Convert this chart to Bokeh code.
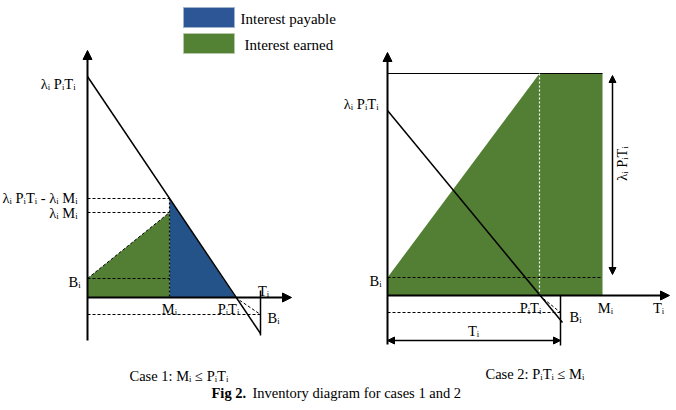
import numpy as np
from bokeh.plotting import figure
from bokeh.models import Range1d, Arrow, NormalHead
from bokeh.core.properties import value
from bokeh.embed import file_html
from bokeh.resources import INLINE

W, H = 676, 410
FONT = "Liberation Serif"
LAB = "14.5px"
BLUE = "#24538a"
BLUE_LEG = "#2c5696"
GREEN = "#527f33"
GREEN_LEG = "#548235"

# ---- Case 1 key points (pixel-space diagram coordinates) ----
c1_axis_x = 87
c1_axis_y = 297
c1_top = 76            # lambda P T
c1_M = 169             # M_i
c1_PT = 235            # P_i T_i
c1_T = 260             # T_i
c1_lpt_lm = 198        # lambda P T - lambda M
c1_lm = 212            # lambda M
c1_B = 278             # B_i (above axis)
c1_Bneg = 314          # B_i (below axis)
c1_line_end = 333

# ---- Case 2 key points ----
c2_axis_x = 387
c2_axis_y = 295
c2_top = 73
c2_lpt = 110
c2_PT = 539
c2_T = 560
c2_M = 602
c2_B = 277
c2_Bneg = 312
c2_line_end = (562, 322)

p = figure(width=W, height=H, x_range=Range1d(0, W), y_range=Range1d(H, 0),
           output_backend="svg", toolbar_location=None, min_border=0)
p.axis.visible = False
p.grid.visible = False
p.outline_line_color = None
p.background_fill_color = "white"

def txt(xs, ys, ts, align="left", size=LAB, **kw):
    p.text(x=xs, y=ys, text=ts, text_font=value(FONT), text_font_size=size,
           text_baseline="middle", text_align=align, text_color="black", **kw)

# ---------------- Legend ----------------
p.quad(left=[183], right=[234], top=[7], bottom=[27], fill_color=BLUE_LEG, line_color="#9fb3cc", line_width=1)
p.quad(left=[183], right=[234], top=[33], bottom=[53], fill_color=GREEN_LEG, line_color="#b5c9a8", line_width=1)
txt([240], [18], ["Interest payable"], size="15px")
txt([244], [44], ["Interest earned"], size="15px")

# ---------------- Case 1 ----------------
p.patch([c1_M, c1_M, c1_PT], [c1_axis_y, c1_lpt_lm, c1_axis_y], fill_color=BLUE, line_color=None)
p.patch([c1_axis_x, c1_axis_x, c1_M, c1_M], [c1_axis_y, c1_B, c1_lm, c1_axis_y], fill_color=GREEN, line_color=None)
p.line([c1_axis_x, c1_M], [c1_B, c1_lm], line_color="black", line_width=1, line_dash="3 2")
for yy in [c1_lpt_lm, c1_lm, c1_B]:
    p.line([c1_axis_x, c1_M], [yy, yy], line_color="black", line_width=1.2, line_dash="3 2")
p.line([c1_axis_x, c1_T], [c1_Bneg, c1_Bneg], line_color="black", line_width=1.2, line_dash="3 2")
p.line([c1_PT, c1_T], [c1_axis_y, c1_Bneg], line_color="black", line_width=1, line_dash="3 2")
p.line([c1_M, c1_M], [c1_lpt_lm, c1_axis_y], line_color="black", line_width=1.2, line_dash="2 2")
p.line([c1_axis_x, c1_T], [c1_top, c1_line_end], line_color="black", line_width=1.5)
p.line([c1_T, c1_T], [c1_axis_y - 7, c1_line_end + 2], line_color="black", line_width=1.5)
p.add_layout(Arrow(end=NormalHead(size=9, fill_color="black", line_color="black"),
                   x_start=c1_axis_x, y_start=340, x_end=c1_axis_x, y_end=50, line_width=2))
p.add_layout(Arrow(end=NormalHead(size=9, fill_color="black", line_color="black"),
                   x_start=c1_axis_x, y_start=c1_axis_y, x_end=291, y_end=c1_axis_y, line_width=2))

txt([75, 77, 77, 80], [83, 197, 212, 281], ["λᵢ PᵢTᵢ", "λᵢ PᵢTᵢ - λᵢ Mᵢ", "λᵢ Mᵢ", "Bᵢ"], align="right")
txt([169, 228, 263], [308, 308, 290], ["Mᵢ", "PᵢTᵢ", "Tᵢ"], align="center")
txt([267], [317], ["Bᵢ"])

# ---------------- Case 2 ----------------
p.patch([c2_axis_x, c2_axis_x, c2_PT, c2_M, c2_M], [c2_axis_y, c2_B, c2_top, c2_top, c2_axis_y],
        fill_color=GREEN, line_color=None)
p.line([c2_axis_x, c2_M], [c2_top, c2_top], line_color="black", line_width=1.2)
p.line([c2_PT, c2_PT], [c2_top, c2_axis_y], line_color="white", line_width=1.2, line_dash="2 2")
p.line([c2_axis_x, c2_M], [c2_B, c2_B], line_color="black", line_width=1.2, line_dash="3 2")
p.line([c2_axis_x, c2_T], [c2_Bneg, c2_Bneg], line_color="black", line_width=1.2, line_dash="3 2")
p.line([c2_PT, c2_T], [c2_axis_y, c2_Bneg], line_color="black", line_width=1, line_dash="3 2")
p.line([c2_axis_x, c2_line_end[0]], [c2_lpt, c2_line_end[1]], line_color="black", line_width=1.5)
p.line([c2_T, c2_T], [c2_axis_y, 345], line_color="black", line_width=1.5)
p.add_layout(Arrow(end=NormalHead(size=9, fill_color="black", line_color="black"),
                   x_start=c2_axis_x, y_start=344, x_end=c2_axis_x, y_end=52, line_width=2))
p.add_layout(Arrow(end=NormalHead(size=9, fill_color="black", line_color="black"),
                   x_start=c2_axis_x, y_start=c2_axis_y, x_end=669, y_end=c2_axis_y, line_width=2))
p.add_layout(Arrow(start=NormalHead(size=7, fill_color="black", line_color="black"),
                   end=NormalHead(size=7, fill_color="black", line_color="black"),
                   x_start=c2_axis_x, y_start=340, x_end=c2_T, y_end=340, line_width=1.5))
p.add_layout(Arrow(start=NormalHead(size=7, fill_color="black", line_color="black"),
                   end=NormalHead(size=7, fill_color="black", line_color="black"),
                   x_start=612, y_start=75, x_end=612, y_end=274, line_width=1.5))

txt([378, 381], [103, 280], ["λᵢ PᵢTᵢ", "Bᵢ"], align="right")
txt([530, 605, 658, 473], [307, 307, 307, 330], ["PᵢTᵢ", "Mᵢ", "Tᵢ", "Tᵢ"], align="center")
txt([569], [316], ["Bᵢ"])
txt([621], [163], ["λᵢ PᵢTᵢ"], align="center", angle=np.pi / 2)

# ---------------- Captions ----------------
txt([129, 485], [375, 373], ["Case 1: Mᵢ ≤  PᵢTᵢ", "Case 2: PᵢTᵢ ≤  Mᵢ"])
txt([211], [392], ["Fig 2."], text_font_style="bold")
txt([252], [392], ["Inventory diagram for cases 1 and 2"])

open("out.html", "w").write(file_html(p, INLINE))
